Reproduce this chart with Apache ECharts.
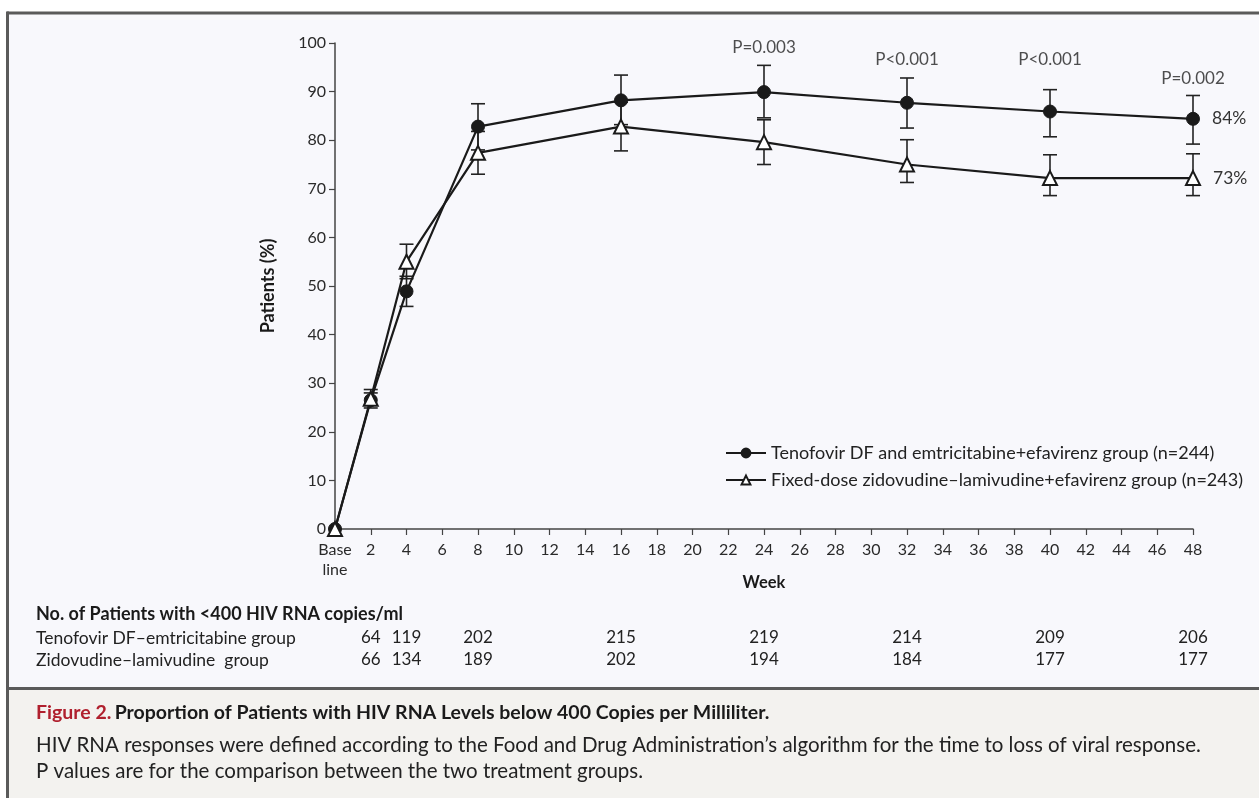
<!DOCTYPE html>
<html>
<head>
<meta charset="utf-8">
<script src="https://cdn.jsdelivr.net/npm/echarts@6/dist/echarts.min.js"></script>
<style>
html,body{margin:0;padding:0;background:#ffffff;}
#chart{width:1259px;height:798px;}
</style>
</head>
<body>
<div id="chart"></div>
<script>
// ---- data ----
const weeks = [0, 2, 4, 8, 16, 24, 32, 40, 48];
const tenofovir      = [0, 26.5, 48.9, 82.8, 88.2, 89.9, 87.7, 85.9, 84.4];
const tenofovirLow   = [null, 24.9, 45.8, 78.0, 83.2, 84.6, 82.5, 80.7, 79.2];
const tenofovirHigh  = [null, 28.0, 52.0, 87.5, 93.4, 95.4, 92.8, 90.4, 89.2];
const zidovudine     = [0, 26.8, 55.0, 77.4, 82.8, 79.6, 75.0, 72.2, 72.2];
const zidovudineLow  = [null, 25.6, 51.5, 73.0, 77.8, 75.0, 71.3, 68.6, 68.6];
const zidovudineHigh = [null, 28.7, 58.6, 81.8, 87.8, 84.2, 80.1, 77.0, 77.2];
const seriesNames = ['Tenofovir DF and emtricitabine+efavirenz group (n=244)',
                     'Fixed-dose zidovudine\u2013lamivudine+efavirenz group (n=243)'];
const finalLabels = ['84%', '73%'];
const pWeeks = [24, 32, 40, 48];
const pTexts = ['P=0.003', 'P<0.001', 'P<0.001', 'P=0.002'];
const pLevels = [99.0, 96.6, 96.6, 92.6];
const countWeeks = [2, 4, 8, 16, 24, 32, 40, 48];
const tenofovirCounts  = [64, 119, 202, 215, 219, 214, 209, 206];
const zidovudineCounts = [66, 134, 189, 202, 194, 184, 177, 177];
const tableTitle = 'No. of Patients with <400 HIV RNA copies/ml';
const rowNames = ['Tenofovir DF\u2013emtricitabine group', 'Zidovudine\u2013lamivudine  group'];
const captionTitleRed = 'Figure 2.';
const captionTitle = 'Proportion of Patients with HIV RNA Levels below 400 Copies per Milliliter.';
const captionLines = ['HIV RNA responses were defined according to the Food and Drug Administration\u2019s algorithm for the time to loss of viral response.',
                      'P values are for the comparison between the two treatment groups.'];

const FONT = 'Lato, "Open Sans", sans-serif';
const INK = '#1a1a1a';

function pairs(xs, ys) { return xs.map((x, i) => [x, ys[i]]); }
function bars(xs, lo, hi) {
  const out = [];
  xs.forEach((x, i) => { if (lo[i] != null) out.push([x, lo[i], hi[i]]); });
  return out;
}
function errorRender(params, api) {
  const x = api.value(0);
  const p1 = api.coord([x, api.value(1)]);
  const p2 = api.coord([x, api.value(2)]);
  const w = 7;
  const st = { stroke: '#222', lineWidth: 1.6 };
  return {
    type: 'group',
    children: [
      { type: 'line', shape: { x1: p1[0], y1: p1[1], x2: p2[0], y2: p2[1] }, style: st },
      { type: 'line', shape: { x1: p1[0] - w, y1: p1[1], x2: p1[0] + w, y2: p1[1] }, style: st },
      { type: 'line', shape: { x1: p2[0] - w, y1: p2[1], x2: p2[0] + w, y2: p2[1] }, style: st }
    ]
  };
}

const chart = echarts.init(document.getElementById('chart'), null, { renderer: 'canvas' });

const option = {
  animation: false,
  backgroundColor: '#ffffff',
  textStyle: { fontFamily: FONT },
  grid: { left: 335, right: 66, top: 43, bottom: 269, containLabel: false },
  xAxis: {
    type: 'value', min: 0, max: 48, interval: 2,
    name: 'Week', nameLocation: 'middle', nameGap: 45, nameMoveOverlap: false,
    nameTextStyle: { fontFamily: FONT, fontSize: 16.5, fontWeight: 'bold', color: INK },
    axisLine: { lineStyle: { color: '#444', width: 1.5 } },
    axisTick: { show: true, inside: false, length: 6, lineStyle: { color: '#444', width: 1.2 } },
    axisLabel: {
      fontFamily: FONT, fontSize: 16, color: '#2a2a2a', margin: 11, lineHeight: 20,
      formatter: v => v === 0 ? 'Base\nline' : String(v)
    },
    splitLine: { show: false }
  },
  yAxis: {
    type: 'value', min: 0, max: 100, interval: 10,
    name: 'Patients (%)', nameLocation: 'middle', nameGap: 58,
    nameTextStyle: { fontFamily: FONT, fontSize: 18, fontWeight: 'bold', color: INK },
    axisLine: { show: true, lineStyle: { color: '#444', width: 1.5 } },
    axisTick: { show: true, inside: false, length: 6, lineStyle: { color: '#444', width: 1.2 } },
    axisLabel: { fontFamily: FONT, fontSize: 16, color: '#2a2a2a', margin: 9 },
    splitLine: { show: false }
  },
  legend: {
    orient: 'vertical', left: 720, top: 439, itemWidth: 40, itemHeight: 11, itemGap: 9,
    textStyle: { fontFamily: FONT, fontSize: 18, color: '#222' },
    data: seriesNames
  },
  series: [
    { type: 'custom', name: 'errT', renderItem: errorRender, data: bars(weeks, tenofovirLow, tenofovirHigh),
      encode: { x: 0, y: [1, 2] }, z: 1, clip: false, silent: true },
    { type: 'custom', name: 'errZ', renderItem: errorRender, data: bars(weeks, zidovudineLow, zidovudineHigh),
      encode: { x: 0, y: [1, 2] }, z: 1, clip: false, silent: true },
    {
      type: 'line', name: seriesNames[0], data: pairs(weeks, tenofovir), z: 3, clip: false,
      symbol: 'circle', symbolSize: 13,
      lineStyle: { color: INK, width: 2.2 },
      itemStyle: { color: INK, borderColor: INK, borderWidth: 1 },
      label: { show: true, position: 'right', distance: 12, fontFamily: FONT, fontSize: 17.5, color: '#333',
        formatter: p => p.dataIndex === weeks.length - 1 ? finalLabels[0] : '' }
    },
    {
      type: 'line', name: seriesNames[1], data: pairs(weeks, zidovudine), z: 4, clip: false,
      symbol: 'triangle', symbolSize: 14,
      lineStyle: { color: INK, width: 2.2 },
      itemStyle: { color: '#ffffff', borderColor: INK, borderWidth: 2 },
      label: { show: true, position: 'right', distance: 12, fontFamily: FONT, fontSize: 17.5, color: '#333',
        formatter: p => p.dataIndex === weeks.length - 1 ? finalLabels[1] : '' }
    },
    {
      type: 'scatter', name: 'pvals', data: pairs(pWeeks, pLevels), symbolSize: 0, z: 5, silent: true,
      label: { show: true, position: 'inside', fontFamily: FONT, fontSize: 17, color: '#222',
        formatter: p => pTexts[p.dataIndex] }
    }
  ]
};
chart.setOption(option);

// frame, table and caption
const gx = v => chart.convertToPixel({ xAxisIndex: 0 }, v);
const g = [
  { type: 'rect', z: -10, silent: true, shape: { x: 7, y: 12, width: 1252, height: 677 }, style: { fill: '#f8f8fc' } },
  { type: 'rect', z: -10, silent: true, shape: { x: 7, y: 689, width: 1252, height: 109 }, style: { fill: '#f3f2ef' } },
  { type: 'rect', z: 10, silent: true, shape: { x: 7, y: 11.5, width: 1252, height: 3 }, style: { fill: '#5a5a5a' } },
  { type: 'rect', z: 10, silent: true, shape: { x: 6, y: 11.5, width: 3, height: 787 }, style: { fill: '#5a5a5a' } },
  { type: 'rect', z: 10, silent: true, shape: { x: 7, y: 687, width: 1252, height: 3 }, style: { fill: '#5a5a5a' } },
  { type: 'text', z: 10, silent: true, x: 36, y: 614,
    style: { text: tableTitle, fontFamily: FONT, fontSize: 18, fontWeight: 'bold', fill: INK, verticalAlign: 'middle' } },
  { type: 'text', z: 10, silent: true, x: 36, y: 638,
    style: { text: rowNames[0], fontFamily: FONT, fontSize: 17.5, fill: '#222', verticalAlign: 'middle' } },
  { type: 'text', z: 10, silent: true, x: 36, y: 660,
    style: { text: rowNames[1], fontFamily: FONT, fontSize: 17.5, fill: '#222', verticalAlign: 'middle' } },
  { type: 'text', z: 10, silent: true, x: 36, y: 713,
    style: { text: '{r|' + captionTitleRed + '} {b|' + captionTitle + '}', verticalAlign: 'middle',
      rich: {
        r: { fontFamily: FONT, fontSize: 19.5, fontWeight: 'bold', fill: '#b0202e', color: '#b0202e' },
        b: { fontFamily: FONT, fontSize: 19.5, fontWeight: 'bold', fill: INK, color: INK }
      } } },
  { type: 'text', z: 10, silent: true, x: 36, y: 745,
    style: { text: captionLines[0], fontFamily: FONT, fontSize: 20.5, fill: '#222', verticalAlign: 'middle' } },
  { type: 'text', z: 10, silent: true, x: 36, y: 771,
    style: { text: captionLines[1], fontFamily: FONT, fontSize: 20.5, fill: '#222', verticalAlign: 'middle' } }
];
countWeeks.forEach((w, i) => {
  const x = gx(w);
  g.push({ type: 'text', z: 10, silent: true, x: x, y: 638,
    style: { text: String(tenofovirCounts[i]), fontFamily: FONT, fontSize: 17, fill: '#222', align: 'center', verticalAlign: 'middle' } });
  g.push({ type: 'text', z: 10, silent: true, x: x, y: 660,
    style: { text: String(zidovudineCounts[i]), fontFamily: FONT, fontSize: 17, fill: '#222', align: 'center', verticalAlign: 'middle' } });
});
chart.setOption({ graphic: g });
</script>
</body>
</html>
